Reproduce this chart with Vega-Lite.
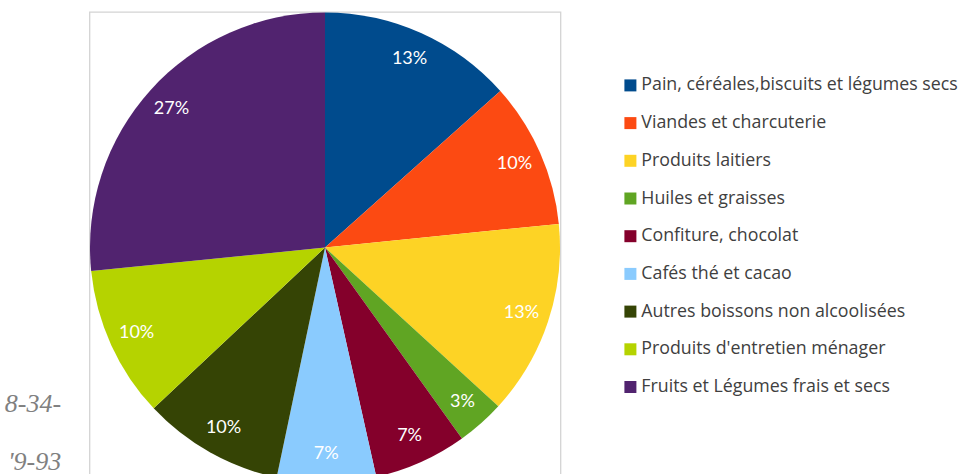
{
  "$schema": "https://vega.github.io/schema/vega-lite/v6.json",
  "width": 471,
  "height": 471,
  "autosize": {"type": "none"},
  "padding": {"left": 89.5, "top": 12, "right": 408.5, "bottom": 0},
  "background": "white",
  "view": {"stroke": "#d4d4d4", "strokeWidth": 1.3},
  "title": {
    "text": ["8-34-", "'9-93"],
    "orient": "left",
    "angle": 0,
    "anchor": "start",
    "align": "right",
    "baseline": "bottom",
    "dy": -66,
    "font": "Liberation Serif",
    "fontStyle": "italic",
    "fontWeight": "normal",
    "fontSize": 26,
    "color": "#808080",
    "lineHeight": 58,
    "offset": -28
  },
  "data": {
    "values": [
      {"i": 1, "cat": "Pain, céréales,biscuits et légumes secs", "v": 13.4, "label": "13%"},
      {"i": 2, "cat": "Viandes et charcuterie", "v": 10.0, "label": "10%"},
      {"i": 3, "cat": "Produits laitiers", "v": 13.4, "label": "13%"},
      {"i": 4, "cat": "Huiles et graisses", "v": 3.3, "label": "3%"},
      {"i": 5, "cat": "Confiture, chocolat", "v": 6.4, "label": "7%"},
      {"i": 6, "cat": "Cafés thé et cacao", "v": 6.8, "label": "7%"},
      {"i": 7, "cat": "Autres boissons non alcoolisées", "v": 9.7, "label": "10%"},
      {"i": 8, "cat": "Produits d'entretien ménager", "v": 10.4, "label": "10%"},
      {"i": 9, "cat": "Fruits et Légumes frais et secs", "v": 26.6, "label": "27%"}
    ]
  },
  "encoding": {
    "theta": {"field": "v", "type": "quantitative", "stack": true},
    "order": {"field": "i", "type": "quantitative"}
  },
  "layer": [
    {
      "mark": {"type": "arc", "outerRadius": 235},
      "encoding": {
        "color": {
          "field": "cat",
          "type": "nominal",
          "scale": {
            "domain": [
              "Pain, céréales,biscuits et légumes secs",
              "Viandes et charcuterie",
              "Produits laitiers",
              "Huiles et graisses",
              "Confiture, chocolat",
              "Cafés thé et cacao",
              "Autres boissons non alcoolisées",
              "Produits d'entretien ménager",
              "Fruits et Légumes frais et secs"
            ],
            "range": ["#004b8d", "#fc4a12", "#fdd325", "#60a523", "#84002b", "#8acbfe", "#354405", "#b5d300", "#51236f"]
          },
          "legend": {
            "title": null,
            "orient": "none",
            "legendX": 532,
            "legendY": 64.5,
            "symbolType": "square",
            "symbolSize": 144,
            "symbolStrokeWidth": 0,
            "labelFont": "Open Sans",
            "labelFontSize": 17.8,
            "labelColor": "#404040",
            "labelLimit": 400,
            "labelOffset": 2,
            "rowPadding": 18.7
          }
        }
      }
    },
    {
      "mark": {"type": "text", "radius": 207, "font": "Lato", "fontSize": 18, "color": "white", "align": "center", "baseline": "middle"},
      "encoding": {
        "text": {"field": "label", "type": "nominal"}
      }
    }
  ]
}
